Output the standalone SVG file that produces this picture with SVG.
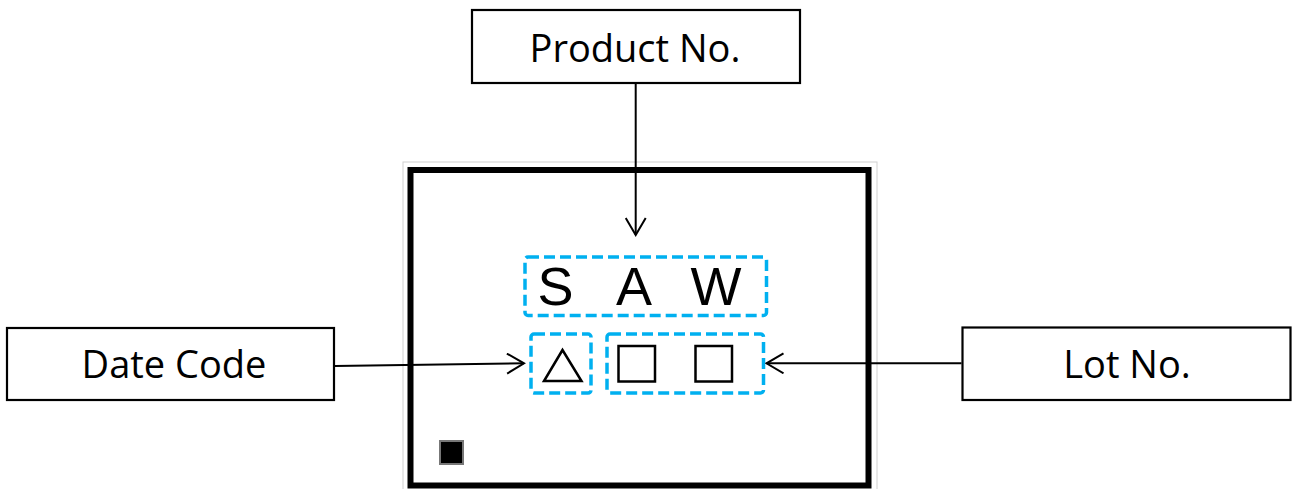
<svg xmlns="http://www.w3.org/2000/svg" width="1295" height="489" viewBox="0 0 1295 489">
<style>
.box{fill:#fff;stroke:#000;stroke-width:2.2}
.lbl{font-family:"Open Sans","Liberation Sans",sans-serif;font-size:38px;fill:#000;text-anchor:middle}
.dash{fill:none;stroke:#00B0F0;stroke-width:3.5;stroke-dasharray:11 5}
.sym{fill:none;stroke:#000;stroke-width:2.5}
.conn{fill:none;stroke:#000;stroke-width:2}
.saw{font-family:"Liberation Sans",Arial,sans-serif;font-size:54px;fill:#000;text-anchor:middle}
</style>
<defs>
<marker id="arr" viewBox="0 0 20 22" refX="18" refY="11" markerWidth="20" markerHeight="22" markerUnits="userSpaceOnUse" orient="auto">
<path d="M1,1 L18,11 L1,21" fill="none" stroke="#000" stroke-width="2"/>
</marker>
</defs>
<rect width="1295" height="489" fill="#fff"/>
<g id="label">
<rect x="403" y="162" width="474" height="340" fill="none" stroke="#d0d0d0" stroke-width="1"/>
<rect x="410.5" y="170" width="458" height="315.5" fill="#fff" stroke="#000" stroke-width="6"/>
<rect x="440" y="441" width="23" height="23" fill="#000" stroke="#777" stroke-width="2"/>
</g>
<g id="product-mark">
<rect class="dash" x="525" y="257" width="241.5" height="58.5" rx="3"/>
<text class="saw" y="305"><tspan x="563">S</tspan> <tspan x="640">A</tspan> <tspan x="716">W</tspan></text>
</g>
<g id="date-mark">
<rect class="dash" x="531" y="334" width="60" height="59" rx="3"/>
<path class="sym" d="M562.5,350 L544,381 L581.5,381 Z"/>
</g>
<g id="lot-mark">
<rect class="dash" x="607" y="334" width="156.5" height="59" rx="3"/>
<rect class="sym" x="618.5" y="346" width="36.5" height="35.5"/>
<rect class="sym" x="695.5" y="346" width="36.5" height="35.5"/>
</g>
<g id="product-no">
<rect class="box" x="472" y="10" width="328" height="73"/>
<text class="lbl" x="635" y="62">Product No.</text>
</g>
<g id="date-code">
<rect class="box" x="7" y="328" width="327" height="72"/>
<text class="lbl" x="174" y="378">Date Code</text>
</g>
<g id="lot-no">
<rect class="box" x="962.5" y="327.5" width="328" height="72.5"/>
<text class="lbl" x="1127" y="378">Lot No.</text>
</g>
<g id="connectors">
<line class="conn" x1="635.7" y1="84" x2="635.7" y2="235" marker-end="url(#arr)"/>
<line class="conn" x1="335" y1="366" x2="524" y2="363.3" marker-end="url(#arr)"/>
<line class="conn" x1="961.5" y1="363.3" x2="766.5" y2="363.3" marker-end="url(#arr)"/>
</g>
</svg>
